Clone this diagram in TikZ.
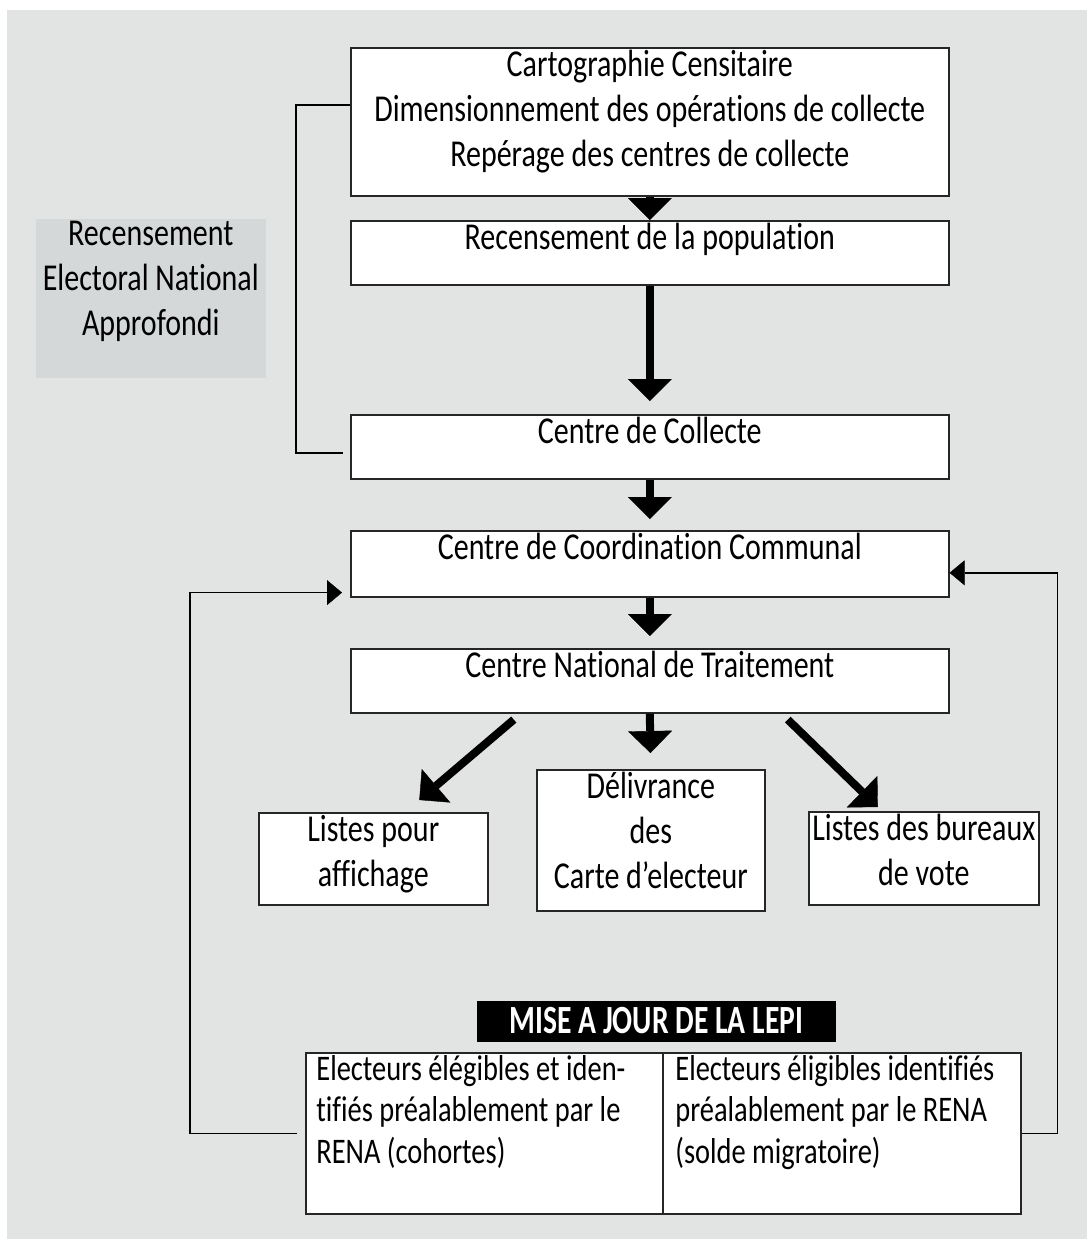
\documentclass[tikz,border=0pt]{standalone}
\usepackage{fontspec}
\setmainfont{Carlito}[FakeStretch=0.79, Ligatures={NoCommon}]
\newfontfamily\barfont{Carlito}[FakeStretch=0.74, Ligatures={NoCommon}]
\usetikzlibrary{arrows.meta,calc,positioning}

\definecolor{bggray}{HTML}{E1E4E3}
\definecolor{tagray}{HTML}{D5D8D9}

\tikzset{
  box/.style={draw=black!85, line width=0.8pt, fill=white, anchor=north west, inner sep=0pt},
  boxtext/.style={anchor=north, align=center, inner sep=0pt, font=\fontsize{19}{22.5}\selectfont},
  leftext/.style={anchor=north west, align=left, inner sep=0pt, font=\fontsize{18}{20.75}\selectfont},
  fat/.style={line width=4pt, -{Triangle[length=11pt,width=22pt,line width=0.2pt]}},
  back/.style={line width=0.7pt, -{Triangle[length=7.5pt,width=12.5pt,line width=0.2pt]}},
}

\begin{document}
\begin{tikzpicture}[x=0.5pt,y=-0.5pt]
\useasboundingbox (0,0) rectangle (1087,1239);
\fill[white] (0,0) rectangle (1087,1239);
\fill[bggray] (7,10) rectangle (1087,1239);

% boxes
\node[box, minimum width=299pt, minimum height=74pt] (carto) at (350,47) {};
\node[box, minimum width=299pt, minimum height=32pt] (recpop) at (350,220) {};
\node[box, minimum width=299pt, minimum height=32pt] (coll) at (350,414) {};
\node[box, minimum width=299pt, minimum height=33pt] (coord) at (350,530) {};
\node[box, minimum width=299pt, minimum height=32pt] (trait) at (350,648) {};
\node[box, minimum width=114.5pt, minimum height=46pt] (affich) at (258,812) {};
\node[box, minimum width=114pt, minimum height=70.5pt] (deliv) at (536,769) {};
\node[box, minimum width=115pt, minimum height=46.5pt] (bureaux) at (808,811) {};
\node[box, minimum width=178.5pt, minimum height=80.5pt] (cohort) at (305,1052) {};
\node[box, minimum width=179pt, minimum height=80.5pt] (migr) at (662,1052) {};
\node[box, draw=none, fill=tagray, minimum width=115pt, minimum height=79.5pt] (rena) at (35,218) {};
\node[box, draw=none, fill=black, minimum width=179.5pt, minimum height=20.5pt] (lepi) at (476,1000) {};

% texts
\node[boxtext, below=1.5pt of carto.north] (cartoT) {Cartographie Censitaire\\Dimensionnement des opérations de collecte\\Repérage des centres de collecte};
\node[boxtext, below=1.5pt of recpop.north] (recpopT) {Recensement de la population};
\node[boxtext, below=1.5pt of coll.north] (collT) {Centre de Collecte};
\node[boxtext, below=1.5pt of coord.north] (coordT) {Centre de Coordination Communal};
\node[boxtext, below=1.5pt of trait.north] (traitT) {Centre National de Traitement};
\node[boxtext, below=1.5pt of affich.north] (affichT) {Listes pour\\affichage};
\node[boxtext, below=1.5pt of deliv.north] (delivT) {Délivrance\\des\\Carte d’electeur};
\node[boxtext, below=1.5pt of bureaux.north] (bureauxT) {Listes des bureaux\\de vote};
\node[boxtext, below=1.5pt of rena.north] (renaT) {Recensement\\Electoral National\\Approfondi};
\node[leftext] (cohortT) at ([xshift=5.5pt,yshift=-1.5pt]cohort.north west) {Electeurs élégibles et iden-\\tifiés préalablement par le\\RENA (cohortes)};
\node[leftext] (migrT) at ([xshift=6.5pt,yshift=-1.5pt]migr.north west) {Electeurs éligibles identifiés\\préalablement par le RENA\\(solde migratoire)};
\node[text=white, font=\barfont\fontsize{20}{22}\selectfont\bfseries, inner sep=0pt] (lepiT) at ([yshift=0.5pt]lepi.center) {MISE A JOUR DE LA LEPI};

% fat arrows
\draw[fat] (carto.south) -- (recpop.north);
\draw[fat, shorten >=6.5pt] (recpop.south) -- (coll.north);
\draw[fat, shorten >=5.5pt] (coll.south) -- (coord.north);
\draw[fat, shorten >=6pt] (coord.south) -- (trait.north);
\draw[fat, shorten >=8pt] (trait.south) -- (deliv.north);
\draw[fat] ($(trait.south)+(-136,6)$) -- ($(affich.north)+(46,-12)$);
\draw[fat] ($(trait.south)+(138,6)$) -- ($(bureaux.north)+(-46,-4)$);

% bracket of the RENA
\draw[line width=0.7pt] ([yshift=8.5pt]carto.west) -- ++(-54,0) |- ([xshift=-3.5pt,yshift=-3pt]coll.west);

% update loops
\draw[back, shorten <=4pt, shorten >=4pt] (cohort.west) -- ++(-115,0) |- ([yshift=2.5pt]coord.south west);
\draw[back] (migr.east) -- ++(36,0) |- ([yshift=-4.5pt]coord.east);
\end{tikzpicture}
\end{document}
